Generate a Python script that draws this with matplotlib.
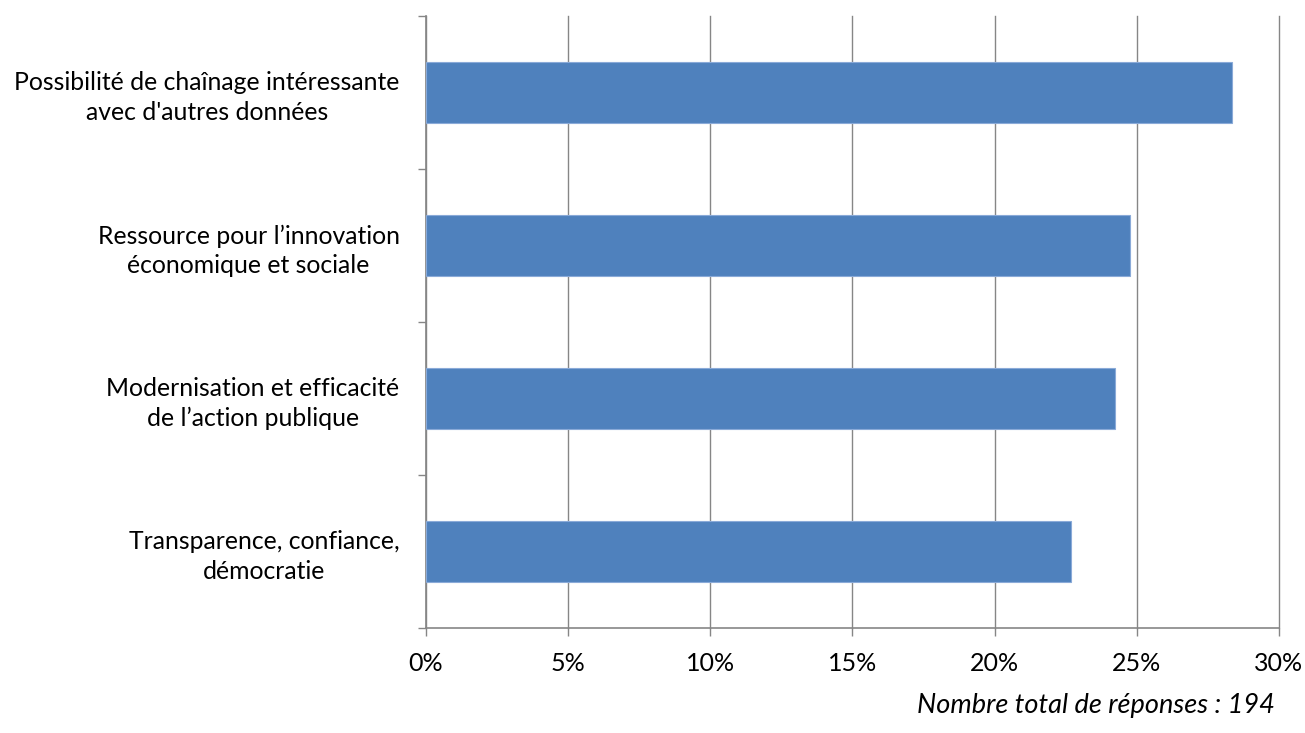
import matplotlib.pyplot as plt
from matplotlib.ticker import FixedLocator, PercentFormatter

plt.rcParams['font.family'] = ['Lato', 'DejaVu Sans']

# responses per motivation, out of the total
categories = [
    "Transparence, confiance,\ndémocratie",
    "Modernisation et efficacité\nde l’action publique",
    "Ressource pour l’innovation\néconomique et sociale",
    "Possibilité de chaînage intéressante\navec d'autres données",
]
counts = [44, 47, 48, 55]
total = 194
shares = [100 * c / total for c in counts]
xticks = [0, 5, 10, 15, 20, 25, 30]

grey = '#868686'
bar_color = '#4F81BD'

fig = plt.figure(figsize=(13.05, 7.33), dpi=100)
ax = fig.add_axes([0.3264, 0.1433, 0.6537, 0.8349])

ypos = range(len(categories))
ax.barh(ypos, shares, height=0.4, color=bar_color, edgecolor='#8AAAD8',
        linewidth=0.8, zorder=3)

ax.set_xlim(0, 30)
ax.set_ylim(-0.5, len(categories) - 0.5)
ax.set_xticks(xticks)
ax.xaxis.set_major_formatter(PercentFormatter(decimals=0))
ax.grid(axis='x', color=grey, linewidth=1.0, zorder=0)
for line in ax.get_xgridlines():
    line.set_clip_on(False)

# labels sit between the boundary ticks
ax.set_yticks(list(ypos))
ax.set_yticklabels(categories, ha='right', multialignment='center',
                   linespacing=1.35)
ax.yaxis.set_minor_locator(FixedLocator([i - 0.5 for i in range(len(categories) + 1)]))
ax.tick_params(axis='y', which='major', length=0, pad=19, labelsize=17.8)
ax.tick_params(axis='y', which='minor', length=6, width=1, color=grey)
ax.tick_params(axis='x', length=6, width=1, color=grey, pad=11, labelsize=18)

for side in ('top', 'right'):
    ax.spines[side].set_visible(False)
for side in ('left', 'bottom'):
    ax.spines[side].set_color(grey)
    ax.spines[side].set_linewidth(1.2)

fig.text(0.977, 0.037, 'Nombre total de réponses : 194', ha='right', va='center',
         fontsize=19.5, style='italic')

fig.savefig('out.png', dpi=100)
